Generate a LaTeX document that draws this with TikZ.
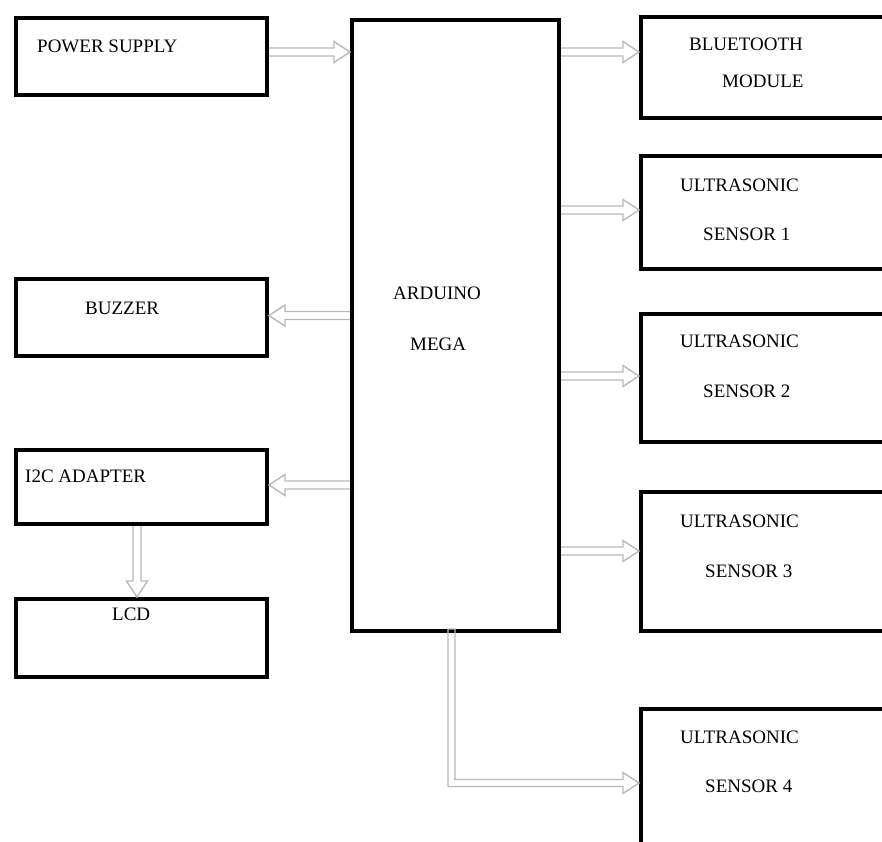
\documentclass[tikz,border=0pt]{standalone}
\usepackage{fontspec}
\setmainfont{Liberation Serif}
\usetikzlibrary{calc,positioning}

\tikzset{
  block/.style={draw,rectangle,line width=4pt,inner sep=0pt,anchor=north west},
  lbl/.style={anchor=base west,inner sep=0pt,font=\fontsize{19}{22}\selectfont},
  flow/.style={draw=black!28,line width=1.4pt,line join=miter,
    to path={($(\tikztotarget)!16pt!(\tikztostart)$) coordinate (ah)
      ($(\tikztostart)!4pt!90:(\tikztotarget)$) -- ($(ah)!4pt!90:(\tikztotarget)$)
      -- ($(ah)!10.5pt!90:(\tikztotarget)$) -- (\tikztotarget)
      -- ($(ah)!10.5pt!-90:(\tikztotarget)$) -- ($(ah)!4pt!-90:(\tikztotarget)$)
      -- ($(\tikztostart)!4pt!-90:(\tikztotarget)$)}}
}

\begin{document}
\begin{tikzpicture}[x=1pt,y=-1pt]
        \useasboundingbox (0,0) rectangle (882,841);

        % Left side
        \node[block,minimum width=251pt,minimum height=77pt] (pwr) at (14,16) {};
        \node[block,minimum width=251pt,minimum height=77pt] (buz) at (14,277) {};
        \node[block,minimum width=251pt,minimum height=74pt] (i2c) at (14,448) {};
        \node[block,minimum width=251pt,minimum height=78pt] (lcd) at (14,597) {};

        % Controller
        \node[block,minimum width=207pt,minimum height=611pt] (ard) at (350,18) {};

        % Right side
        \node[block,minimum width=260pt,minimum height=101pt] (bt) at (639,15) {};
        \foreach \n/\t/\h in {1/154/113,2/312/128,3/490/139,4/707/200} {
            \node[block,minimum width=260pt,minimum height=\h pt] (us\n) at (639,\t) {};
        }

        % Labels
        \node[lbl] (pwrtxt) at (37,52) {POWER SUPPLY};
        \node[lbl] (buztxt) at (85,314) {BUZZER};
        \node[lbl] (i2ctxt) at (25,482) {I2C ADAPTER};
        \node[lbl] (lcdtxt) at (112,620) {LCD};
        \node[lbl] (ardtxt) at (393,299) {ARDUINO};
        \node[lbl] (megatxt) at (410,350) {MEGA};
        \node[lbl] (bttxt) at (689,50) {BLUETOOTH};
        \node[lbl] (modtxt) at (722,87) {MODULE};
        \foreach \n/\ya/\xb/\yb in {1/191/703/240,2/347/703/397,3/527/705/577,4/743/705/792} {
            \node[lbl] (ustxt\n) at (680,\ya) {ULTRASONIC};
            \node[lbl] (sentxt\n) at (\xb,\yb) {SENSOR \n};
        }

        % Arrows
        \draw[flow] (pwr.east |- 0,52) to (ard.west |- 0,52);
        \draw[flow] (ard.east |- 0,52) to (bt.west |- 0,52);
        \foreach \n/\y in {1/210,2/376,3/551} {
            \draw[flow] (ard.east |- 0,\y) to (us\n.west |- 0,\y);
        }
        \draw[flow] (ard.west |- 0,315.5) to (buz.east |- 0,315.5);
        \draw[flow] (ard.west |- 0,485) to (i2c.east |- 0,485);
        \draw[flow] (i2c.south -| 137,0) to (lcd.north -| 137,0);

        % Arrow down and round to sensor 4
        \coordinate (ardout) at ($(ard.south west)+(101.5,-4)$);
        \coordinate (tip4) at (us4.west |- 0,783);
        \coordinate (bend) at (ardout |- tip4);
        \draw[draw=black!28,line width=1.4pt,line join=miter]
            ($(ardout)+(-3.5,0)$) -- ($(bend)+(-3.5,3.5)$) -- ($(tip4)+(-16,3.5)$)
            -- ($(tip4)+(-16,10.5)$) -- (tip4) -- ($(tip4)+(-16,-10.5)$)
            -- ($(tip4)+(-16,-3.5)$) -- ($(bend)+(3.5,-3.5)$) -- ($(ardout)+(3.5,0)$) -- cycle;
    \end{tikzpicture}
\end{document}
